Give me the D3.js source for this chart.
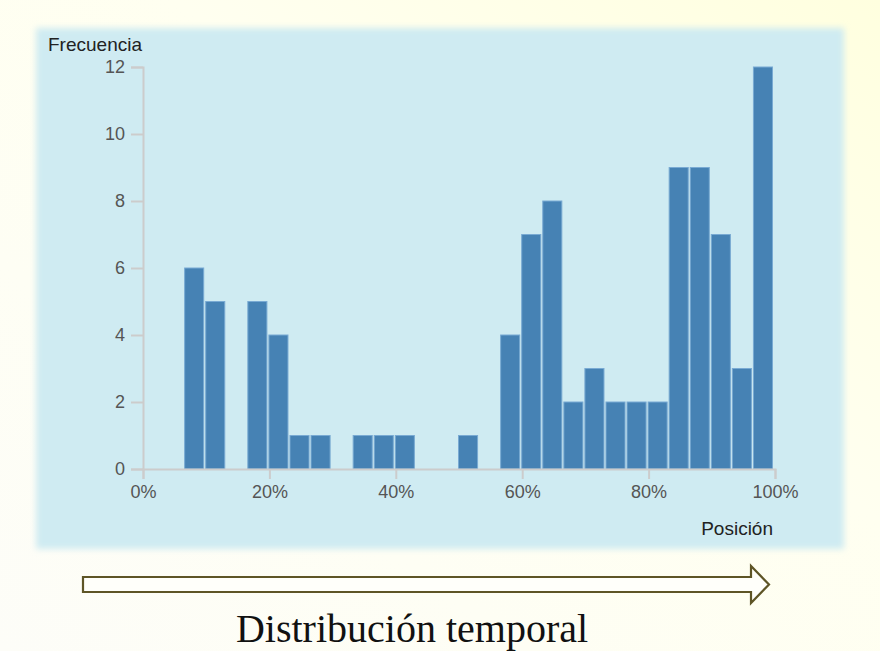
<!DOCTYPE html>
<html>
<head>
<meta charset="utf-8">
<script src="https://cdn.jsdelivr.net/npm/d3@7"></script>
<style>
  html, body { margin: 0; padding: 0; background: #fffff0; }
  svg { display: block; }
</style>
</head>
<body>
<svg id="chart" width="880" height="651"></svg>
<script>
// ---- data ----
// counts per bin; the 30 bins split the 0%–100% position range evenly
const binCounts = [0, 0, 6, 5, 0, 5, 4, 1, 1, 0, 1, 1, 1, 0, 0, 1, 0, 4, 7, 8, 2, 3, 2, 2, 2, 9, 9, 7, 3, 12];
const xTickValues = [0, 0.2, 0.4, 0.6, 0.8, 1.0];
const yTickValues = [0, 2, 4, 6, 8, 10, 12];
const yLabel = "Frecuencia";
const xLabel = "Posición";
const caption = "Distribución temporal";

const nBins = binCounts.length;
const bins = binCounts.map((c, i) => ({ x0: i / nBins, x1: (i + 1) / nBins, count: c }));

const svg = d3.select("#chart");
const W = 880, H = 651;

const defs = svg.append("defs");
const bg = defs.append("linearGradient").attr("id", "bgGrad")
  .attr("x1", "0").attr("y1", "1").attr("x2", "1").attr("y2", "0");
bg.append("stop").attr("offset", "0").attr("stop-color", "#fdfdf8");
bg.append("stop").attr("offset", "0.6").attr("stop-color", "#fffff0");
bg.append("stop").attr("offset", "1").attr("stop-color", "#ffffdf");

const blur = defs.append("filter").attr("id", "soft")
  .attr("x", "-5%").attr("y", "-5%").attr("width", "110%").attr("height", "110%");
blur.append("feGaussianBlur").attr("stdDeviation", 3);

svg.append("rect").attr("width", W).attr("height", H).attr("fill", "url(#bgGrad)");

// blue panel
svg.append("rect")
  .attr("x", 36).attr("y", 28).attr("width", 808).attr("height", 521)
  .attr("fill", "#cfebf2").attr("filter", "url(#soft)");

// scales
const x = d3.scaleLinear().domain([0, 1]).range([143, 775]);
const y = d3.scaleLinear().domain([0, 12]).range([469, 67]);

// bars
svg.append("g").selectAll("rect").data(bins).join("rect")
  .filter(d => d.count > 0)
  .attr("x", d => x(d.x0) - 0.5)
  .attr("y", d => y(d.count))
  .attr("width", d => x(d.x1) - x(d.x0) - 2)
  .attr("height", d => y(0) - y(d.count))
  .attr("fill", "#4682b4")
  .attr("stroke", "#79aad3")
  .attr("stroke-width", 1);

// axes
const fontFam = "'Liberation Sans', Arial, Helvetica, sans-serif";

const yAxis = d3.axisLeft(y).tickValues(yTickValues).tickSize(12).tickSizeOuter(12).tickPadding(6);
const gy = svg.append("g").attr("transform", `translate(${x(0)},0)`).call(yAxis);

const xAxis = d3.axisBottom(x).tickValues(xTickValues).tickFormat(d3.format(".0%"))
  .tickSize(10).tickSizeOuter(10).tickPadding(6);
const gx = svg.append("g").attr("transform", `translate(0,${y(0)})`).call(xAxis);

[gx, gy].forEach(g => {
  g.selectAll("path.domain").attr("stroke", "#cccccc").attr("stroke-width", 2);
  g.selectAll(".tick line").attr("stroke", "#cccccc").attr("stroke-width", 2);
  g.selectAll(".tick text").attr("fill", "#555555")
    .style("font-family", fontFam).style("font-size", "18px");
});

// axis labels
svg.append("text").attr("x", 48).attr("y", 51)
  .attr("fill", "#222222").style("font-family", fontFam).style("font-size", "19px")
  .text(yLabel);

svg.append("text").attr("x", 773).attr("y", 535).attr("text-anchor", "end")
  .attr("fill", "#222222").style("font-family", fontFam).style("font-size", "19px")
  .text(xLabel);

// block arrow
const arrowPath = d3.path();
arrowPath.moveTo(83, 577);
arrowPath.lineTo(751, 577);
arrowPath.lineTo(751, 566);
arrowPath.lineTo(769, 584.5);
arrowPath.lineTo(751, 603);
arrowPath.lineTo(751, 592);
arrowPath.lineTo(83, 592);
arrowPath.closePath();
svg.append("path").attr("d", arrowPath.toString())
  .attr("fill", "#fffffa").attr("stroke", "#5e5526").attr("stroke-width", 2.2)
  .attr("stroke-linejoin", "miter");

// caption
svg.append("text").attr("x", 412).attr("y", 642).attr("text-anchor", "middle")
  .attr("fill", "#111111")
  .style("font-family", "'Liberation Serif', 'Times New Roman', serif")
  .style("font-size", "40px")
  .text(caption);
</script>
</body>
</html>
